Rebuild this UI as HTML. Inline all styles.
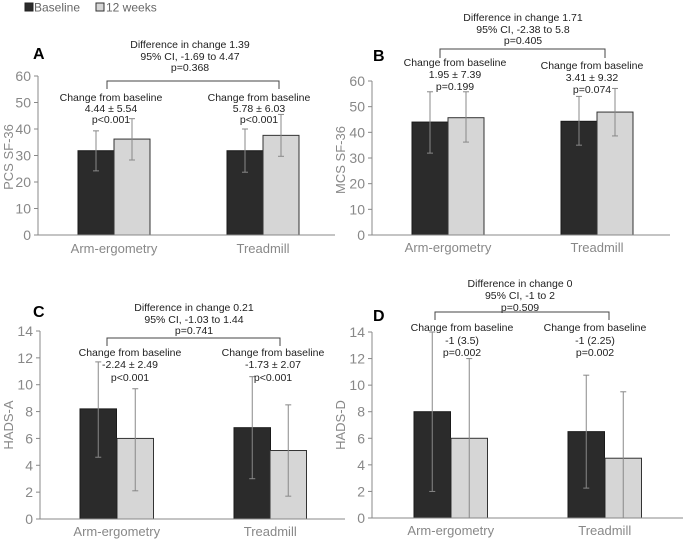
<!DOCTYPE html>
<html><head><meta charset="utf-8">
<style>
body{margin:0;background:#fff;}
svg{display:block;font-family:"Liberation Sans",Arial,sans-serif;}
</style></head>
<body>
<svg id="chart" width="685" height="540" viewBox="0 0 685 540">
  <g>
    <rect x="25" y="3" width="8" height="8" fill="#2b2b2b" stroke="#222"/>
    <text x="34" y="11.5" font-size="12" fill="#666">Baseline</text>
    <rect x="96" y="3" width="8" height="8" fill="#d6d6d6" stroke="#333"/>
    <text x="106" y="11.5" font-size="12" fill="#666">12 weeks</text>
  </g>
</svg>
<script>
const categories = ["Arm-ergometry", "Treadmill"];
// Panel A (PCS SF-36)
const aBaseline = [31.8, 31.8];
const aWeek12 = [36.2, 37.6];
const aBaseErr = [[24.2, 39.3], [23.7, 40.0]];
const aWeekErr = [[28.3, 43.9], [29.7, 45.5]];
const aTicks = [0, 10, 20, 30, 40, 50, 60];
// Panel B (MCS SF-36)
const bBaseline = [44.0, 44.3];
const bWeek12 = [45.7, 47.9];
const bBaseErr = [[31.9, 55.8], [35.0, 54.0]];
const bWeekErr = [[36.2, 55.8], [38.6, 57.1]];
const bTicks = [0, 10, 20, 30, 40, 50, 60];
// Panel C (HADS-A)
const cBaseline = [8.2, 6.8];
const cWeek12 = [6.0, 5.1];
const cBaseErr = [[4.6, 11.7], [3.0, 10.6]];
const cWeekErr = [[2.1, 9.7], [1.7, 8.5]];
const cTicks = [0, 2, 4, 6, 8, 10, 12, 14];
// Panel D (HADS-D)
const dBaseline = [8.0, 6.5];
const dWeek12 = [6.0, 4.5];
const dBaseErr = [[2.0, 14.0], [2.25, 10.75]];
const dWeekErr = [[0, 12.0], [0, 9.5]];
const dTicks = [0, 2, 4, 6, 8, 10, 12, 14];

const NS = "http://www.w3.org/2000/svg";
const svg = document.getElementById("chart");
function mk(tag, attrs, parent, text){
  const e = document.createElementNS(NS, tag);
  for (const k in attrs) e.setAttribute(k, attrs[k]);
  if (text !== undefined) e.textContent = text;
  parent.appendChild(e);
  return e;
}

const panels = [
  {id:"a", letter:"A", title:"PCS SF-36", base:aBaseline, wk:aWeek12, be:aBaseErr, we:aWeekErr, ticks:aTicks,
   ax:38, top:76, bottom:235, right:335, bars:[[78,114],[227,263]], bw:36, catY:253,
   br:[107,279,81,89], diff:["Difference in change 1.39","95% CI,  -1.69 to 4.47","p=0.368"], diffX:190, diffY:[48,60,71],
   lx:33, ly:59, ch:[[111,[101,112,123],["Change  from baseline","4.44 ± 5.54","p<0.001"]],[259,[101,112,123],["Change  from baseline","5.78 ± 6.03","p<0.001"]]], titleX:13, titleY:157},
  {id:"b", letter:"B", title:"MCS SF-36", base:bBaseline, wk:bWeek12, be:bBaseErr, we:bWeekErr, ticks:bTicks,
   ax:372, top:81, bottom:235, right:670, bars:[[412,448],[561,597]], bw:36, catY:252,
   br:[440,605,49,58], diff:["Difference in change 1.71","95% CI,  -2.38 to 5.8","p=0.405"], diffX:523, diffY:[21,33,44],
   lx:373, ly:61, ch:[[455,[66,78,90],["Change  from baseline","1.95 ± 7.39","p=0.199"]],[592,[69,81,93],["Change  from baseline","3.41 ± 9.32","p=0.074"]]], titleX:345, titleY:160},
  {id:"c", letter:"C", title:"HADS-A", base:cBaseline, wk:cWeek12, be:cBaseErr, we:cWeekErr, ticks:cTicks,
   ax:40, top:331, bottom:519, right:345, bars:[[80,117],[234,270]], bw:36.5, catY:536,
   br:[107,280,338,346], diff:["Difference in change 0.21","95% CI,  -1.03 to 1.44","p=0.741"], diffX:194, diffY:[311,323,334],
   lx:33, ly:317, ch:[[130,[356,368,381],["Change  from baseline","-2.24 ± 2.49","p<0.001"]],[273,[356,368,381],["Change  from baseline","-1.73 ± 2.07","p<0.001"]]], titleX:13, titleY:425},
  {id:"d", letter:"D", title:"HADS-D", base:dBaseline, wk:dWeek12, be:dBaseErr, we:dWeekErr, ticks:dTicks,
   ax:372, top:332, bottom:518, right:683, bars:[[414,451],[568,605]], bw:36.5, catY:535,
   br:[435,609,312,320], diff:["Difference in change 0","95% CI,  -1 to 2","p=0.509"], diffX:520, diffY:[287,299,311],
   lx:373, ly:321, ch:[[462,[331,344,356],["Change  from baseline","-1 (3.5)","p=0.002"]],[595,[331,344,356],["Change  from baseline","-1 (2.25)","p=0.002"]]], titleX:345, titleY:425}
];

panels.forEach(p => {
  const g = mk("g", {}, svg);
  
  
  const maxV = p.ticks[p.ticks.length-1];
  const y = v => p.bottom - (v / maxV) * (p.bottom - p.top);
  p.ticks.forEach(t => {
    const tl = mk("line", {x1:p.ax-4, x2:p.ax, y1:y(t), y2:y(t), stroke:"#888"}, g);
    
    
    const tx = mk("text", {x:p.ax-7, y:y(t)+5, "font-size":14, fill:"#888", "text-anchor":"end"}, g, t);
    
    
  });
  const ya = mk("line", {x1:p.ax, x2:p.ax, y1:p.top, y2:p.bottom, stroke:"#888"}, g);
  
  
  const yt = mk("text", {x:0, y:0, "font-size":13, fill:"#888", "text-anchor":"middle", transform:"translate(" + p.titleX + "," + p.titleY + ") rotate(-90)"}, g, p.title);
  
  
  categories.forEach((c, i) => {
    const bx = p.bars[i][0], wx = p.bars[i][1];
    const b1 = mk("rect", {x:bx, y:y(p.base[i]), width:p.bw, height:y(0)-y(p.base[i]), fill:"#2b2b2b", stroke:"#1a1a1a"}, g);
    
    
    const b2 = mk("rect", {x:wx, y:y(p.wk[i]), width:p.bw, height:y(0)-y(p.wk[i]), fill:"#d6d6d6", stroke:"#333"}, g);
    
    
    [[bx + p.bw/2, p.be[i]], [wx + p.bw/2, p.we[i]]].forEach(([cx, e]) => {
      const eg = mk("g", {stroke:"#888", "stroke-width":1}, g);
      
      
      mk("line", {x1:cx, x2:cx, y1:y(e[0]), y2:y(e[1])}, eg);
      mk("line", {x1:cx-3, x2:cx+3, y1:y(e[0]), y2:y(e[0])}, eg);
      mk("line", {x1:cx-3, x2:cx+3, y1:y(e[1]), y2:y(e[1])}, eg);
    });
    const cl = mk("text", {x:(bx+wx+p.bw)/2, y:p.catY, "font-size":13, fill:"#888", "text-anchor":"middle"}, g, c);
    
    
  });
  const xa = mk("line", {x1:p.ax-4, x2:p.right, y1:p.bottom, y2:p.bottom, stroke:"#888"}, g);
  
  
  const b = p.br;
  const bp = mk("polyline", {points:`${b[0]},${b[3]} ${b[0]},${b[2]} ${b[1]},${b[2]} ${b[1]},${b[3]}`, fill:"none", stroke:"#444"}, g);
  
  
  p.diff.forEach((t, k) => {
    const tx = mk("text", {x:p.diffX, y:p.diffY[k], "font-size":10.5, fill:"#222", "text-anchor":"middle"}, g, t);
    
    
  });
  const L = mk("text", {x:p.lx, y:p.ly, "font-size":16, "font-weight":"bold", fill:"#000"}, g, p.letter);
  
  
  p.ch.forEach(([cx, ys, lines]) => {
    lines.forEach((t, k) => {
      const tx = mk("text", {x:cx, y:ys[k], "font-size":10.5, fill:"#222", "text-anchor":"middle"}, g, t);
      
      
    });
  });
});
</script>
</body></html>
